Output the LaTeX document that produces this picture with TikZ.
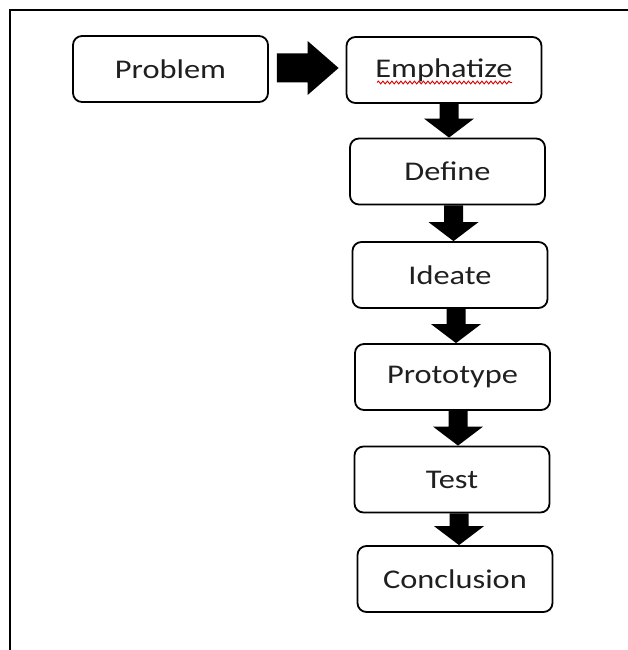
\documentclass[tikz,border=0pt]{standalone}
\usepackage{fontspec}
\setmainfont{Carlito}
\usetikzlibrary{calc,decorations.pathmorphing}

% horizontally widened label text
\newcommand\widelabel[1]{\scalebox{1.2}[1]{#1}}

% thick downward block arrow between two stacked stages;
% #3 shifts the arrow axis sideways from the upper stage's centre
\newcommand\downblock[3]{%
  \coordinate (dbt) at ($(#1.south)+(#3,0)$);
  \coordinate (dbb) at (dbt |- #2.north);
  \fill[blockfill] ($(dbt)+(-9.5,0)$) -- ($(dbt)+(9.5,0)$)
    -- ($(dbb)+(9.5,-19)$) -- ($(dbb)+(25,-19)$) -- (dbb)
    -- ($(dbb)+(-25,-19)$) -- ($(dbb)+(-9.5,-19)$) -- cycle;
}

\begin{document}
\begin{tikzpicture}[x=1pt,y=-1pt,
  stage/.style={draw, line width=1.8pt, rounded corners=9pt,
    minimum width=195pt, minimum height=66pt, inner sep=0pt,
    text=black!88, font=\fontsize{27}{32}\selectfont},
  blockfill/.style={fill=black},
  frameline/.style={line width=2pt}]
\useasboundingbox (0,0) rectangle (628,650);

% open frame: top and left edges
\draw[frameline] (10,650) -- (10,10) -- (628,10);

% stages
\node[stage] (prob)  at (170.5,69)  {\widelabel{Problem}};
\node[stage] (emph)  at (444,70)    {\widelabel{Emphatize}};
\node[stage] (def)   at (447.5,171.5) {\widelabel{Define}};
\node[stage] (idea)  at (450,275)   {\widelabel{Ideate}};
\node[stage] (proto) at (452.5,377) {\widelabel{Prototype}};
\node[stage] (test)  at (452,479.5) {\widelabel{Test}};
\node[stage] (concl) at (455,579)   {\widelabel{Conclusion}};

% spell-check squiggle under "Emphatize"
\draw[red!85!black, line width=0.9pt, decorate,
  decoration={snake, amplitude=1.4pt, segment length=4.5pt}]
  ($(emph.center)+(-67,12.5)$) -- ($(emph.center)+(68,12.5)$);

% right block arrow from Problem to Emphatize
\coordinate (ra) at ($(prob.east)+(8,-1)$);
\coordinate (rb) at ($(emph.west)+(-7,-2)$);
\fill[blockfill] ($(ra)+(0,-14.5)$) -- ($(rb)+(-31,-14.5)$) -- ($(rb)+(-31,-27)$)
  -- (rb) -- ($(rb)+(-31,27)$) -- ($(rb)+(-31,14.5)$) -- ($(ra)+(0,14.5)$) -- cycle;

% downward block arrows through the stages
\downblock{emph}{def}{5}
\downblock{def}{idea}{6}
\downblock{idea}{proto}{6}
\downblock{proto}{test}{5.5}
\downblock{test}{concl}{7}
\end{tikzpicture}
\end{document}
